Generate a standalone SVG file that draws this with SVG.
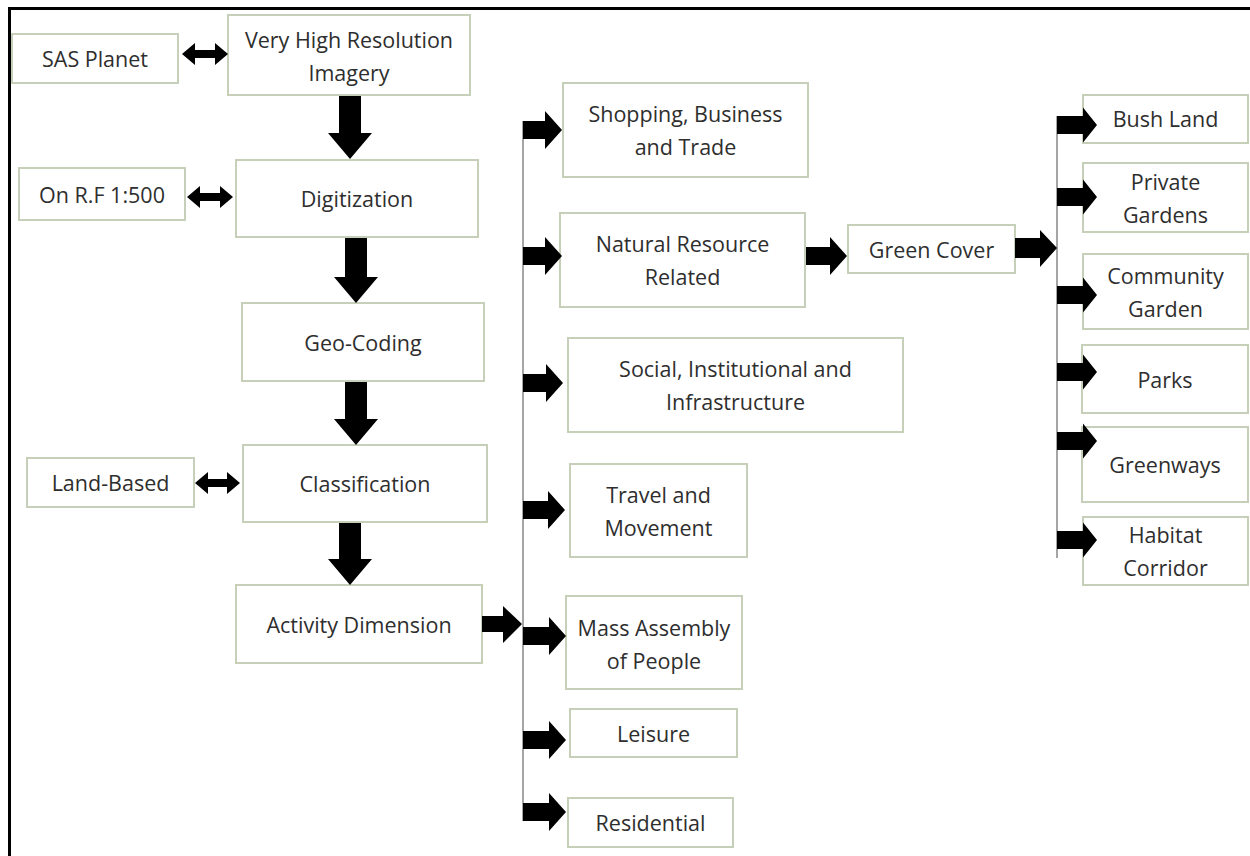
<svg xmlns="http://www.w3.org/2000/svg" width="1250" height="856" viewBox="0 0 1250 856">
<style>
.box{fill:#ffffff;stroke:#c6cfb8;stroke-width:2}
.t{font-family:"Open Sans","Noto Sans","Liberation Sans",sans-serif;font-size:21.5px;fill:#2e2e2e;text-anchor:middle}
.ar{fill:#000000}
.bus{stroke:#a5a5a5;stroke-width:2;fill:none}
</style>
<rect x="0" y="0" width="1250" height="856" fill="#ffffff"/>
<g id="frame">
<line x1="8" y1="8.5" x2="1250" y2="8.5" stroke="#000" stroke-width="3"/>
<line x1="9.5" y1="7" x2="9.5" y2="856" stroke="#000" stroke-width="3"/>
</g>
<g id="n-sas"><rect class="box" x="12" y="34" width="166" height="49"/><text class="t" x="95" y="67">SAS Planet</text></g>
<g id="n-vhr"><rect class="box" x="228" y="15" width="242" height="80"/><text class="t" x="349" y="48">Very High Resolution</text><text class="t" x="349" y="81">Imagery</text></g>
<g id="n-rf"><rect class="box" x="19" y="168" width="166" height="52"/><text class="t" x="102" y="202.5">On R.F 1:500</text></g>
<g id="n-dig"><rect class="box" x="236" y="160" width="242" height="77"/><text class="t" x="357" y="207">Digitization</text></g>
<g id="n-geo"><rect class="box" x="242" y="303" width="242" height="78"/><text class="t" x="363" y="350.5">Geo-Coding</text></g>
<g id="n-land"><rect class="box" x="27" y="458" width="167" height="49"/><text class="t" x="110.5" y="491">Land-Based</text></g>
<g id="n-class"><rect class="box" x="243" y="445" width="244" height="77"/><text class="t" x="365" y="492">Classification</text></g>
<g id="n-act"><rect class="box" x="236" y="585" width="246" height="78"/><text class="t" x="359" y="632.5">Activity Dimension</text></g>
<g id="n-shop"><rect class="box" x="563" y="83" width="245" height="94"/><text class="t" x="685.5" y="122">Shopping, Business</text><text class="t" x="685.5" y="155">and Trade</text></g>
<g id="n-nat"><rect class="box" x="560" y="213" width="245" height="94"/><text class="t" x="682.5" y="252">Natural Resource</text><text class="t" x="682.5" y="285">Related</text></g>
<g id="n-green"><rect class="box" x="848" y="225" width="167" height="48"/><text class="t" x="931.5" y="257.5">Green Cover</text></g>
<g id="n-social"><rect class="box" x="568" y="338" width="335" height="94"/><text class="t" x="735.5" y="377">Social, Institutional and</text><text class="t" x="735.5" y="410">Infrastructure</text></g>
<g id="n-travel"><rect class="box" x="570" y="464" width="177" height="93"/><text class="t" x="658.5" y="502.5">Travel and</text><text class="t" x="658.5" y="535.5">Movement</text></g>
<g id="n-mass"><rect class="box" x="566" y="596" width="176" height="93"/><text class="t" x="654" y="636">Mass Assembly</text><text class="t" x="654" y="669">of People</text></g>
<g id="n-leisure"><rect class="box" x="570" y="709" width="167" height="48"/><text class="t" x="653.5" y="741.5">Leisure</text></g>
<g id="n-res"><rect class="box" x="568" y="798" width="165" height="49"/><text class="t" x="650.5" y="831">Residential</text></g>
<g id="n-bush"><rect class="box" x="1083" y="95" width="165" height="48"/><text class="t" x="1165.5" y="127">Bush Land</text></g>
<g id="n-private"><rect class="box" x="1083" y="163" width="165" height="69"/><text class="t" x="1165.5" y="189.5">Private</text><text class="t" x="1165.5" y="222.5">Gardens</text></g>
<g id="n-community"><rect class="box" x="1083" y="254" width="165" height="75"/><text class="t" x="1165.5" y="283.5">Community</text><text class="t" x="1165.5" y="316.5">Garden</text></g>
<g id="n-parks"><rect class="box" x="1082" y="345" width="166" height="68"/><text class="t" x="1165" y="387.5">Parks</text></g>
<g id="n-greenways"><rect class="box" x="1082" y="427" width="166" height="75"/><text class="t" x="1165" y="473">Greenways</text></g>
<g id="n-habitat"><rect class="box" x="1083" y="517" width="165" height="68"/><text class="t" x="1165.5" y="543">Habitat</text><text class="t" x="1165.5" y="576">Corridor</text></g>
<g id="connectors">
<line class="bus" x1="523" y1="121" x2="523" y2="821"/>
<line class="bus" x1="1057" y1="116" x2="1057" y2="558"/>
<polygon class="ar" points="339,96 361,96 361,133 372,133 350,159 328,133 339,133"/>
<polygon class="ar" points="345,238 367,238 367,277 378,277 356,303 334,277 345,277"/>
<polygon class="ar" points="345,382 367,382 367,419 378,419 356,445 334,419 345,419"/>
<polygon class="ar" points="339,523 361,523 361,559 372,559 350,585 328,559 339,559"/>
<polygon class="ar" points="182,54 195,43 195,50 215,50 215,43 228,54 215,65 215,58 195,58 195,65"/>
<polygon class="ar" points="187,197 200,186 200,193 220,193 220,186 233,197 220,208 220,201 200,201 200,208"/>
<polygon class="ar" points="195,483 208,472 208,479 227,479 227,472 240,483 227,494 227,487 208,487 208,494"/>
<polygon class="ar" points="482,616 503,616 503,606 522,624 503,643 503,632 482,632"/>
<polygon class="ar" points="523,121 545,121 545,111 562,130 545,149 545,139 523,139"/>
<polygon class="ar" points="523,247 545,247 545,237 562,256 545,275 545,265 523,265"/>
<polygon class="ar" points="523,374 546,374 546,364 563,383 546,402 546,392 523,392"/>
<polygon class="ar" points="523,501 548,501 548,491 565,510 548,529 548,519 523,519"/>
<polygon class="ar" points="523,627 549,627 549,617 566,636 549,655 549,645 523,645"/>
<polygon class="ar" points="523,731 549,731 549,721 566,740 549,759 549,749 523,749"/>
<polygon class="ar" points="523,803 549,803 549,793 566,812 549,831 549,821 523,821"/>
<polygon class="ar" points="806,247 830,247 830,237 847,256 830,275 830,265 806,265"/>
<polygon class="ar" points="1015,238 1040,238 1040,230 1057,248 1040,267 1040,258 1015,258"/>
<polygon class="ar" points="1057,116 1083,116 1083,107.5 1097,125 1083,142.5 1083,134 1057,134"/>
<polygon class="ar" points="1057,188 1083,188 1083,179.5 1097,197 1083,214.5 1083,206 1057,206"/>
<polygon class="ar" points="1057,286 1083,286 1083,277.5 1097,295 1083,312.5 1083,304 1057,304"/>
<polygon class="ar" points="1057,363 1083,363 1083,354.5 1097,372 1083,389.5 1083,381 1057,381"/>
<polygon class="ar" points="1057,432 1083,432 1083,423.5 1097,441 1083,458.5 1083,450 1057,450"/>
<polygon class="ar" points="1057,531 1083,531 1083,522.5 1097,540 1083,557.5 1083,549 1057,549"/>
</g>
</svg>
